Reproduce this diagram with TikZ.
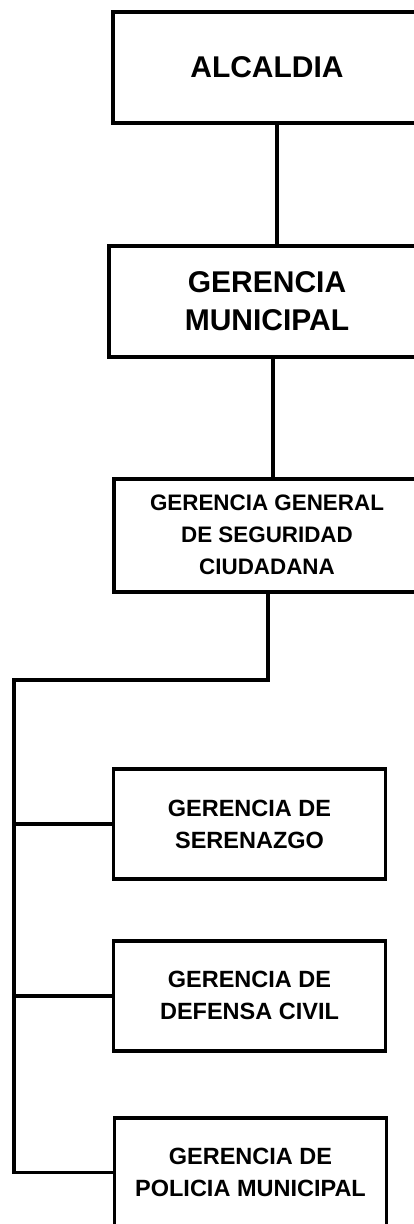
\documentclass[tikz,border=0pt]{standalone}
\usepackage{fontspec}
\setmainfont{Liberation Sans}
\usetikzlibrary{positioning}
\tikzstyle{topbox} = [rectangle, draw, line width=3.8pt, align=center, inner sep=0pt, minimum height=111pt, font=\bfseries\fontsize{30}{38}\selectfont]
\tikzstyle{midbox} = [rectangle, draw, line width=3.8pt, align=center, inner sep=0pt, minimum height=113pt, font=\bfseries\fontsize{22.4}{32}\selectfont]
\tikzstyle{subbox} = [rectangle, draw, line width=3.8pt, align=center, inner sep=0pt, minimum width=272pt, minimum height=110pt, font=\bfseries\fontsize{23.5}{32}\selectfont]
\tikzstyle{line} = [line width=3.5pt]

\begin{document}
\begin{tikzpicture}[x=1pt, y=1pt]
\useasboundingbox[fill=white] (0,0) rectangle (414,-1224);
\clip (0,0) rectangle (414,-1224);

% upper chain
\node[topbox, minimum width=308pt] (alcaldia) at (267,-67.5) {ALCALDIA};
\node[topbox, minimum width=316pt, below=119pt of alcaldia] (gerencia) {GERENCIA\\MUNICIPAL};
\node[midbox, minimum width=306pt, below=118pt of gerencia] (seguridad) {GERENCIA GENERAL\\DE SEGURIDAD\\CIUDADANA};

% lower boxes
\node[subbox] (serenazgo) at (249.5,-824) {GERENCIA DE\\SERENAZGO};
\node[subbox, below=58pt of serenazgo] (defensa) {GERENCIA DE\\DEFENSA CIVIL};
\node[subbox, below=63pt of defensa, xshift=1pt] (policia) {GERENCIA DE\\POLICIA MUNICIPAL};

% connectors
\coordinate (bus) at (14,-680);
\draw[line] ([xshift=10pt]alcaldia.south) -- ([xshift=10pt]alcaldia.south |- gerencia.north);
\draw[line] ([xshift=6pt]gerencia.south) -- ([xshift=6pt]gerencia.south |- seguridad.north);
\draw[line] ([xshift=1pt]seguridad.south) |- (bus) |- (policia.west);
\draw[line] (bus |- serenazgo.west) -- (serenazgo.west);
\draw[line] (bus |- defensa.west) -- (defensa.west);

\end{tikzpicture}
\end{document}
